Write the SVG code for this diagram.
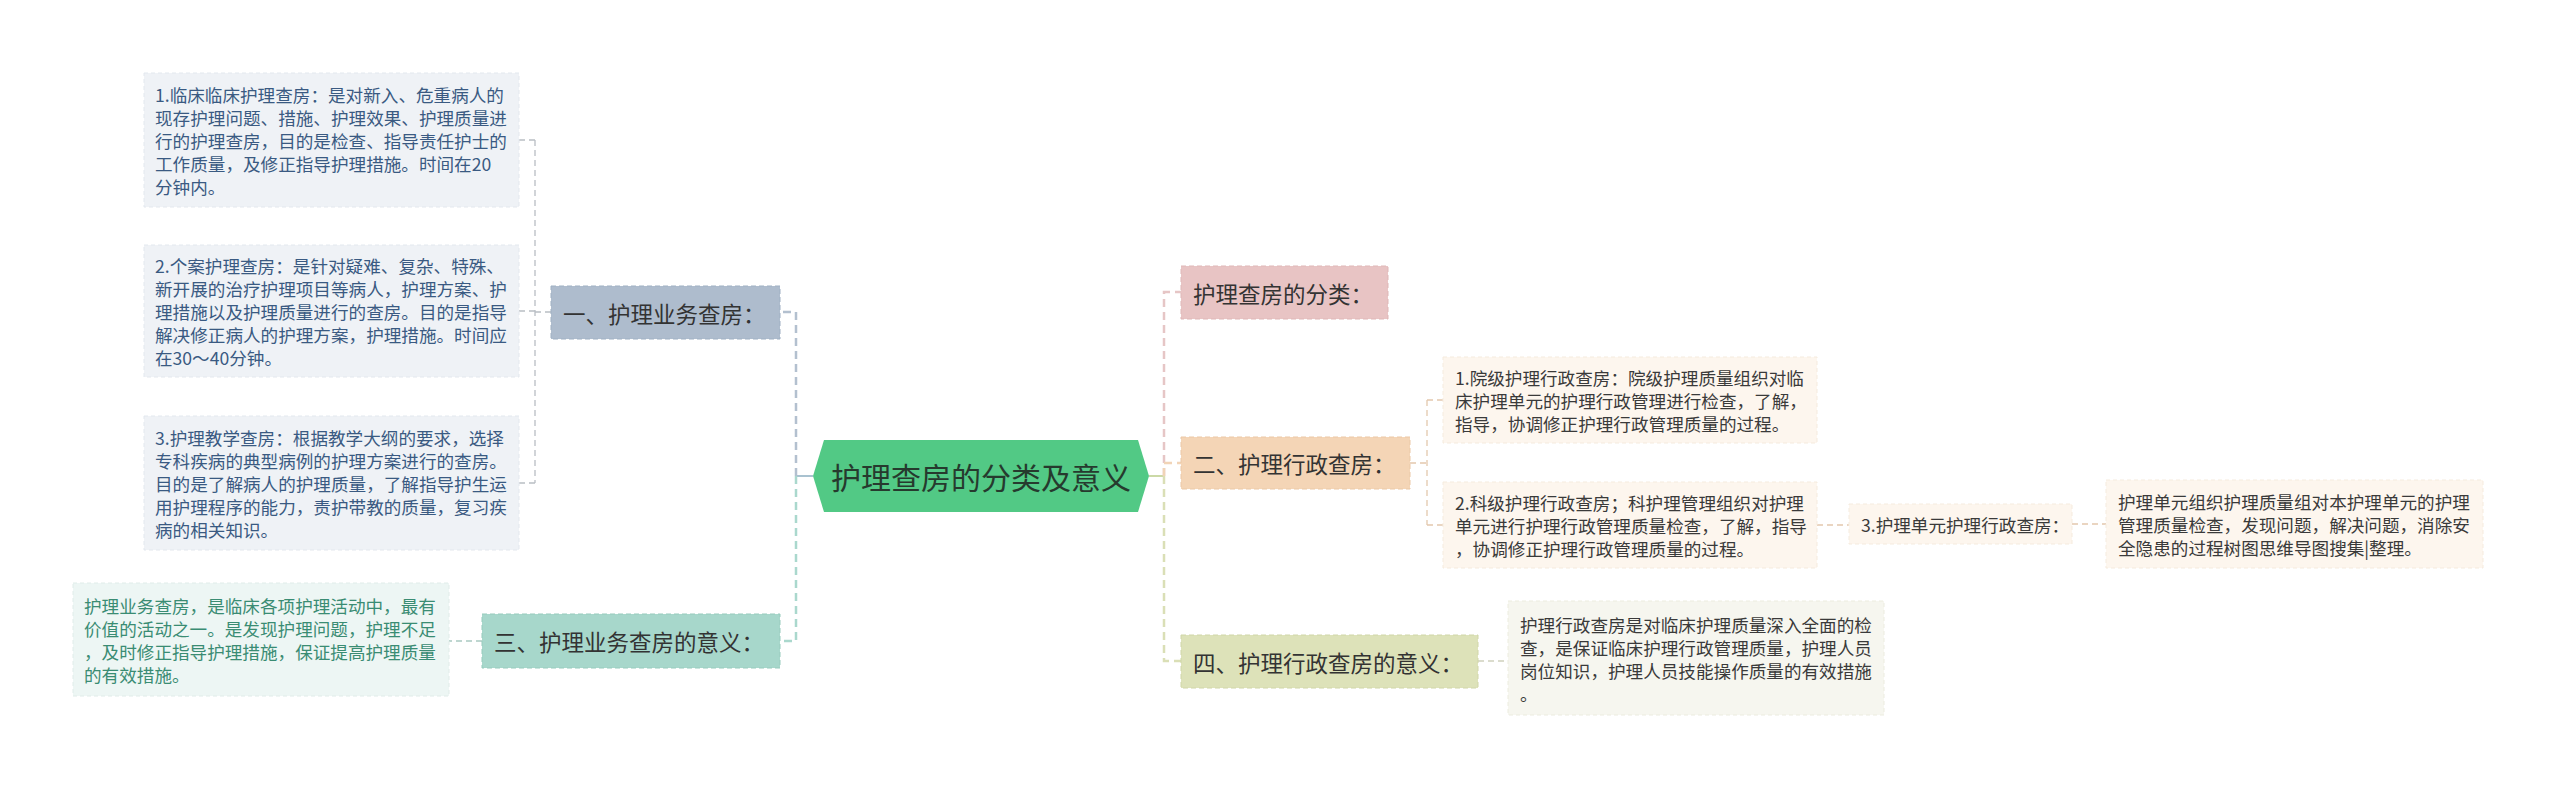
<svg xmlns="http://www.w3.org/2000/svg" width="2560" height="792" viewBox="0 0 2560 792">
<style>
text{font-family:"Noto Sans CJK SC","Liberation Sans",sans-serif;dominant-baseline:central}
.d{font-size:17.6px}
.m{font-size:22.5px;fill:#333}
.c{font-size:30px;fill:#263a2e}
.bl rect{fill:#eff2f6;stroke:#e3e8ee;stroke-dasharray:4 3}
.bl text{fill:#3a5a82}
.gr rect{fill:#edf6f4;stroke:#e0ece9;stroke-dasharray:4 3}
.gr text{fill:#3a8c73}
.pe rect{fill:#fdf6ee;stroke:#f5ebde;stroke-dasharray:4 3}
.pe text{fill:#3a3a3a}
.ol rect{fill:#f6f6ef;stroke:#ececdf;stroke-dasharray:4 3}
.ol text{fill:#3a3a3a}
.cn path{fill:none}
.thin{stroke-width:1.3;stroke-dasharray:6 4}
.main{stroke-width:2.5;stroke-dasharray:8 5}
</style>
<rect width="2560" height="792" fill="#fff"/>
<g id="connectors" class="cn">
<path d="M813,476H796" stroke="#a9c2d0" stroke-width="2"/>
<path class="main" d="M796,476V312H780" stroke="#b3c0cf"/>
<path class="main" d="M796,476V641H780" stroke="#aad8cd"/>
<path class="thin" d="M551,312H535M535,140V483M519,140H535M519,311H535M519,483H535" stroke="#b9bec4"/>
<path class="thin" d="M482,641H449" stroke="#a9c9c1"/>
<path d="M1149,476H1164" stroke="#cbd9a6" stroke-width="2"/>
<path class="main" d="M1164,476V292H1181" stroke="#e6c6c6"/>
<path class="main" d="M1164,476V463H1181" stroke="#f1d4b7"/>
<path class="main" d="M1164,476V661H1181" stroke="#dadfb6"/>
<path class="thin" d="M1410,463H1427M1427,400V525M1427,400H1443M1427,525H1443" stroke="#e3c8ad"/>
<path class="thin" d="M1817,525H1849M2072,524H2106" stroke="#e3c8ad"/>
<path class="thin" d="M1478,661H1508" stroke="#cfd1bd"/>
</g>
<g id="center">
<polygon points="813,476 824,440 1138,440 1149,476 1138,512 824,512" fill="#52c985"/>
<text class="c" x="981" y="476" text-anchor="middle">护理查房的分类及意义</text>
</g>
<g id="n1">
<rect x="551" y="286" width="229" height="53" fill="#aebccd" stroke="#9fb0c3" stroke-dasharray="5 3"/>
<text class="m" x="563" y="312.5">一、护理业务查房：</text>
</g>
<g id="n3">
<rect x="482" y="614" width="298" height="54" fill="#a7d7cb" stroke="#97cbbd" stroke-dasharray="5 3"/>
<text class="m" x="494" y="641">三、护理业务查房的意义：</text>
</g>
<g id="b1" class="bl d">
<rect x="144" y="73" width="375" height="134"/>
<text x="155" y="94">1.临床临床护理查房：是对新入、危重病人的</text>
<text x="155" y="117">现存护理问题、措施、护理效果、护理质量进</text>
<text x="155" y="140">行的护理查房，目的是检查、指导责任护士的</text>
<text x="155" y="163">工作质量，及修正指导护理措施。时间在20</text>
<text x="155" y="186">分钟内。</text>
</g>
<g id="b2" class="bl d">
<rect x="144" y="245" width="375" height="132"/>
<text x="155" y="265">2.个案护理查房：是针对疑难、复杂、特殊、</text>
<text x="155" y="288">新开展的治疗护理项目等病人，护理方案、护</text>
<text x="155" y="311">理措施以及护理质量进行的查房。目的是指导</text>
<text x="155" y="334">解决修正病人的护理方案，护理措施。时间应</text>
<text x="155" y="357">在30～40分钟。</text>
</g>
<g id="b3" class="bl d">
<rect x="144" y="416" width="375" height="134"/>
<text x="155" y="437">3.护理教学查房：根据教学大纲的要求，选择</text>
<text x="155" y="460">专科疾病的典型病例的护理方案进行的查房。</text>
<text x="155" y="483">目的是了解病人的护理质量，了解指导护生运</text>
<text x="155" y="506">用护理程序的能力，责护带教的质量，复习疾</text>
<text x="155" y="529">病的相关知识。</text>
</g>
<g id="b4" class="gr d">
<rect x="73" y="583" width="376" height="113"/>
<text x="84" y="605">护理业务查房，是临床各项护理活动中，最有</text>
<text x="84" y="628">价值的活动之一。是发现护理问题，护理不足</text>
<text x="84" y="651">，及时修正指导护理措施，保证提高护理质量</text>
<text x="84" y="674">的有效措施。</text>
</g>
<g id="r0">
<rect x="1181" y="266" width="207" height="53" fill="#e8c4c4" stroke="#dfb7b7" stroke-dasharray="5 3"/>
<text class="m" x="1193" y="292.5">护理查房的分类：</text>
</g>
<g id="r2">
<rect x="1181" y="437" width="229" height="52" fill="#f4d5b6" stroke="#ebc8a6" stroke-dasharray="5 3"/>
<text class="m" x="1193" y="463">二、护理行政查房：</text>
</g>
<g id="r4">
<rect x="1181" y="635" width="297" height="53" fill="#dde2b9" stroke="#d0d6a8" stroke-dasharray="5 3"/>
<text class="m" x="1193" y="661.5">四、护理行政查房的意义：</text>
</g>
<g id="d1" class="pe d">
<rect x="1443" y="357" width="374" height="86"/>
<text x="1455" y="377">1.院级护理行政查房：院级护理质量组织对临</text>
<text x="1455" y="400">床护理单元的护理行政管理进行检查，了解，</text>
<text x="1455" y="423">指导，协调修正护理行政管理质量的过程。</text>
</g>
<g id="d2" class="pe d">
<rect x="1443" y="482" width="374" height="86"/>
<text x="1455" y="502">2.科级护理行政查房；科护理管理组织对护理</text>
<text x="1455" y="525">单元进行护理行政管理质量检查，了解，指导</text>
<text x="1455" y="548">，协调修正护理行政管理质量的过程。</text>
</g>
<g id="d3" class="pe d">
<rect x="1849" y="504" width="223" height="40"/>
<text x="1861" y="524">3.护理单元护理行政查房：</text>
</g>
<g id="d4" class="pe d">
<rect x="2106" y="480" width="377" height="88"/>
<text x="2118" y="501">护理单元组织护理质量组对本护理单元的护理</text>
<text x="2118" y="524">管理质量检查，发现问题，解决问题，消除安</text>
<text x="2118" y="547">全隐患的过程树图思维导图搜集|整理。</text>
</g>
<g id="d5" class="ol d">
<rect x="1508" y="601" width="376" height="114"/>
<text x="1520" y="624">护理行政查房是对临床护理质量深入全面的检</text>
<text x="1520" y="647">查，是保证临床护理行政管理质量，护理人员</text>
<text x="1520" y="670">岗位知识，护理人员技能操作质量的有效措施</text>
<text x="1520" y="693">。</text>
</g>
</svg>
